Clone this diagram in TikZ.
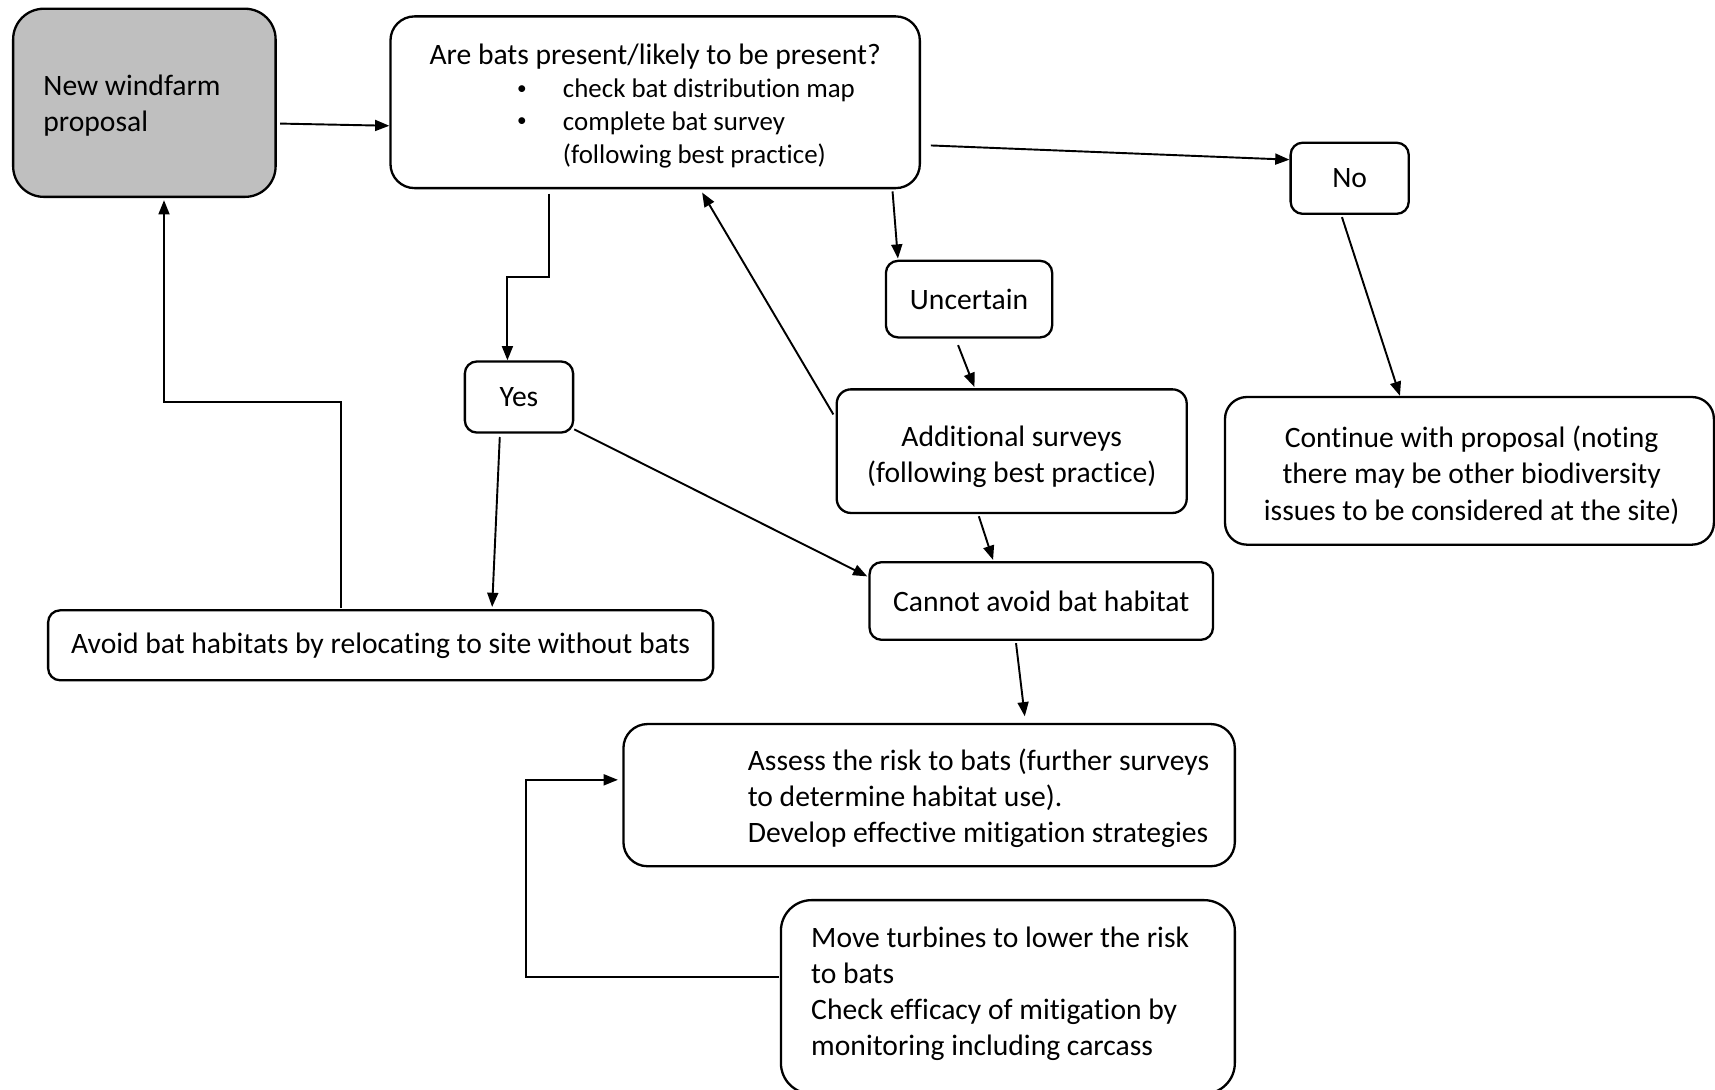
\documentclass[tikz,border=0pt]{standalone}
\usepackage{fontspec}
\setmainfont{Carlito}[Ligatures={NoCommon}]
\usetikzlibrary{arrows.meta,calc}
\definecolor{boxgray}{HTML}{BFBFBF}
\newcommand{\smallbul}{\raisebox{0.35mm}{\fontsize{5pt}{5pt}\selectfont\textbullet}}
\tikzset{
  box/.style={draw=black, line width=0.6pt, rectangle, inner sep=0pt, align=center,
    font=\fontsize{7.7pt}{9.4pt}\selectfont},
  txt/.style={inner sep=0pt, align=left, font=\fontsize{7.7pt}{9.4pt}\selectfont},
  ctxt/.style={inner sep=0pt, align=center, font=\fontsize{7.7pt}{9.4pt}\selectfont},
  arr/.style={draw=black, line width=0.5pt, -{Triangle[length=1.3mm,width=1.0mm]}},
}
\begin{document}
\begin{tikzpicture}[x=0.1mm, y=-0.1mm]
\clip (0,0) rectangle (1568,996);
\fill[white] (0,0) rectangle (1568,996);
% boxes
\node[box, fill=boxgray, rounded corners=2.8mm, minimum width=24mm, minimum height=17.2mm] (new) at (132,94) {};
\node[txt, anchor=west] (newt) at (39,96.5) {New windfarm\\proposal};
\node[box, rounded corners=2.2mm, minimum width=48.4mm, minimum height=15.7mm] (q) at (599,93.5) {};
\node[ctxt] (qt) at (599,52) {Are bats present/likely to be present?};
\node[txt, anchor=west, font=\fontsize{7pt}{8.5pt}\selectfont] (ql) at (472,113.5)
  {\begin{tabular}{@{}p{4.2mm}@{}l@{}}\smallbul & check bat distribution map\\
   \smallbul & complete bat survey\\ & (following best practice)\end{tabular}};
\node[box, rounded corners=1.1mm, minimum width=10.8mm, minimum height=6.5mm] (no) at (1234,163) {No};
\node[box, rounded corners=1.1mm, minimum width=15.2mm, minimum height=7.0mm] (unc) at (886,273.5) {Uncertain};
\node[box, rounded corners=1.1mm, minimum width=9.9mm, minimum height=6.5mm] (yes) at (474.5,363) {Yes};
\node[box, rounded corners=1.3mm, minimum width=32.0mm, minimum height=11.3mm] (add) at (925,412.5) {};
\node[ctxt] (addt) at (925,417.5) {Additional surveys\\(following best practice)};
\node[box, rounded corners=2.0mm, minimum width=44.7mm, minimum height=13.5mm] (cont) at (1343.5,430.5) {};
\node[ctxt] (contt) at (1345.5,434.5) {Continue with proposal (noting\\there may be other biodiversity\\issues to be considered at the site)};
\node[box, rounded corners=1.1mm, minimum width=31.4mm, minimum height=7.1mm] (cannot) at (952,549.5) {Cannot avoid bat habitat};
\node[box, rounded corners=1.1mm, minimum width=60.8mm, minimum height=6.4mm] (avoid) at (348,590) {Avoid bat habitats by relocating to site without bats};
\node[box, rounded corners=2.2mm, minimum width=55.9mm, minimum height=13.0mm] (assess) at (849.5,727) {};
\node[txt, anchor=west] (assesst) at (683,730) {Assess the risk to bats (further surveys\\to determine habitat use).\\Develop effective mitigation strategies};
\node[box, rounded corners=2.8mm, minimum width=41.5mm, minimum height=17.7mm] (move) at (921.5,911.5) {};
\node[txt, anchor=west] (movet) at (741,908.5) {Move turbines to lower the risk\\to bats\\Check efficacy of mitigation by\\monitoring including carcass};
% connectors
\draw[arr] ([shift={(3,19)}]new.east) -- ([shift={(0,21.5)}]q.west);
\draw[arr] ([shift={(9,39.5)}]q.east) -- ([shift={(0,-17)}]no.west);
\draw[arr] ([shift={(146,4)}]q.south west) -- ++(0,76) -| ([shift={(40,0)}]yes.north west);
\draw[arr] ([shift={(-26,2)}]q.south east) -- ([shift={(12,-1)}]unc.north west);
\draw[arr] ([shift={(-2,24)}]add.north west) -- ([shift={(286,3)}]q.south west);
\draw[arr] ([shift={(67,6)}]unc.south west) -- ([shift={(127,-1)}]add.north west);
\draw[arr] ([shift={(48,2)}]no.south west) -- ([shift={(161,0)}]cont.north west);
\draw[arr] ([shift={(33,3)}]yes.south west) -- ([shift={(407,-2)}]avoid.north west);
\draw[arr] ([shift={(0,-4)}]yes.south east) -- ([shift={(-1,-22.5)}]cannot.west);
\draw[arr] ([shift={(131,2)}]add.south west) -- ([shift={(114,-1)}]cannot.north west);
\draw[arr] ([shift={(269,-1)}]avoid.north west) -- ++(0,-188) -| ([shift={(139,2)}]new.south west);
\draw[arr] ([shift={(135,2)}]cannot.south west) -- ([shift={(368,-6)}]assess.north west);
\draw[arr] ([shift={(-1,-18.5)}]move.west) -- ++(-231,0) |- ([shift={(-4,-14)}]assess.west);
\end{tikzpicture}
\end{document}
